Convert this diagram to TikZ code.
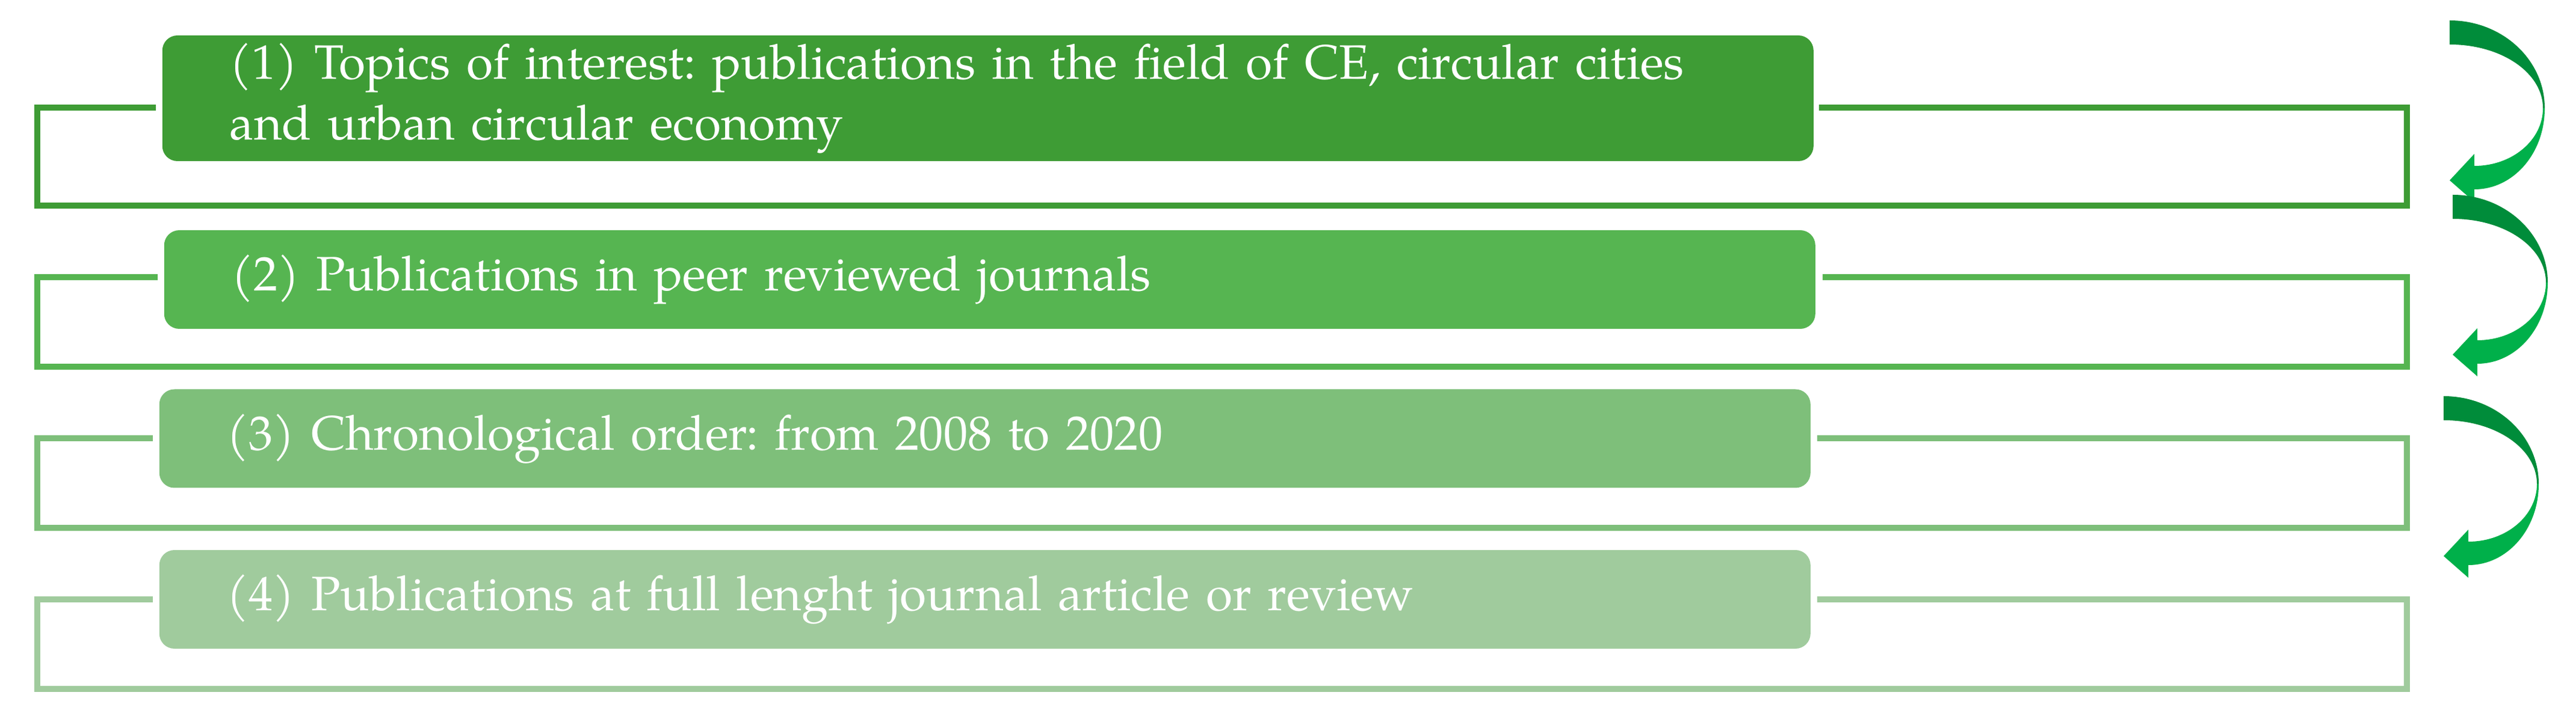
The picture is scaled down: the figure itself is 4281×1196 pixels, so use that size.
\documentclass[tikz,border=0pt]{standalone}
\usepackage{fontspec}
\setmainfont{texgyrepagella-regular.otf}
\usepackage{tikz}

\definecolor{stage1}{HTML}{3E9C35}
\definecolor{stage2}{HTML}{56B551}
\definecolor{stage3}{HTML}{7EBF7A}
\definecolor{stage4}{HTML}{A0CB9D}
\definecolor{curlback}{HTML}{008C3A}
\definecolor{curlfront}{HTML}{00B04A}

\begin{document}
\frenchspacing
\begin{tikzpicture}[x=0.25pt,y=-0.25pt,
                    stage node/.style={rectangle,rounded corners=6.25pt,anchor=west,text=white,
                      align=left,text width=630pt,inner xsep=28pt,inner ysep=0pt,
                      minimum height=41pt,font=\fontsize{20.1}{25.25}\selectfont},
                    frame line/.style={line width=2.5pt},
                    curl/.pic={
                      \fill[curlback] (0,0) .. controls (87,0) and (158,65) .. (158,146)
                        -- (155,146) .. controls (155,87) and (86,40) .. (0,40) -- cycle;
                      \fill[curlfront] (158,146) .. controls (158,221) and (106,281) .. (41,281)
                        -- (41,302) -- (0,266) -- (41,222) -- (41,242)
                        .. controls (104,242) and (155,199) .. (155,146) -- cycle;
                    }]
  \useasboundingbox (0,0) rectangle (4281,1196);

  \draw[frame line,stage1] (259,179.5) -- (62,179.5) -- (62,342.5) -- (4000,342.5) -- (4000,179.5) -- (3023,179.5);
  \draw[frame line,stage2] (262,461.5) -- (62,461.5) -- (62,610) -- (4000,610) -- (4000,461.5) -- (3029,461.5);
  \draw[frame line,stage3] (254,729) -- (62,729) -- (62,878) -- (4000,878) -- (4000,729) -- (3020,729);
  \draw[frame line,stage4] (254,997) -- (62,997) -- (62,1146) -- (4000,1146) -- (4000,997) -- (3020,997);

  \node[stage node,fill=stage1,minimum height=52.25pt] (1) at (269,163.5)
    {(1) Topics of interest: publications in the field of CE, circular cities\\and urban circular economy};
  \node[stage node,fill=stage2] (2) at (272,465) {(2) Publications in peer reviewed journals};
  \node[stage node,fill=stage3] (3) at (264,729.5) {(3) Chronological order: from 2008 to 2020};
  \node[stage node,fill=stage4] (4) at (264,997) {(4) Publications at full lenght journal article or review};

  \pic at (4071,34) {curl};
  \pic at (4076,324) {curl};
  \pic at (4061,659) {curl};
\end{tikzpicture}
\end{document}
